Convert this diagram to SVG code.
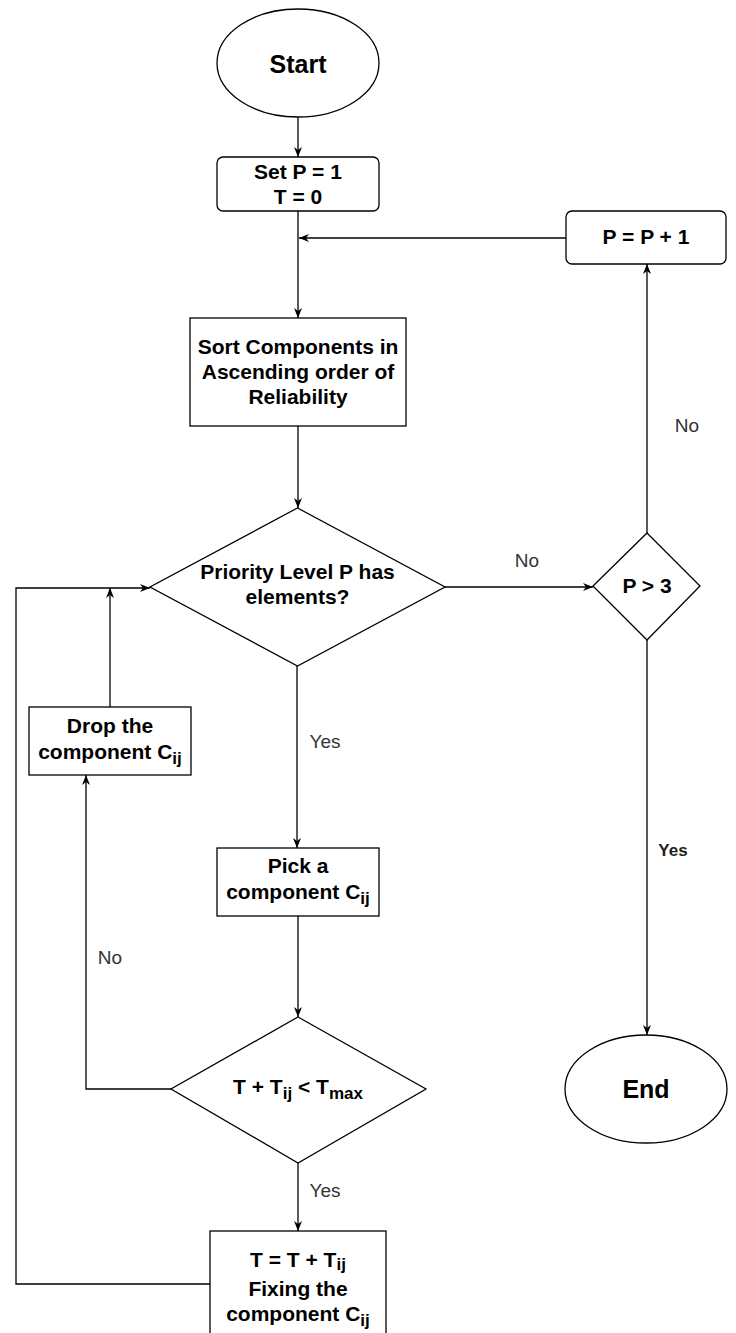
<svg xmlns="http://www.w3.org/2000/svg" width="736" height="1333" viewBox="0 0 736 1333">
<style>
.shape{fill:#fff;stroke:#000;stroke-width:1.3}
.t{font-family:"Liberation Sans",Arial,sans-serif;font-weight:bold;font-size:21px;fill:#000;text-anchor:middle}
.big{font-size:25px}
.lbl{font-family:"Liberation Sans",Arial,sans-serif;font-size:19px;fill:#333;text-anchor:middle}
.lblb{font-family:"Liberation Sans",Arial,sans-serif;font-weight:bold;font-size:17px;fill:#222;text-anchor:middle}
.c{fill:none;stroke:#000;stroke-width:1.3}
.sub{font-size:17px}
</style>
<defs>
<marker id="arr" viewBox="0 0 10 8" refX="10" refY="4" markerWidth="10" markerHeight="8" markerUnits="userSpaceOnUse" orient="auto">
<path d="M0,0 L10,4 L0,8 L3,4 z" fill="#000"/>
</marker>
</defs>
<rect width="736" height="1333" fill="#fff"/>
<g id="connectors">
<path class="c" d="M298,117 L298,157" marker-end="url(#arr)"/>
<path class="c" d="M298,211 L298,318" marker-end="url(#arr)"/>
<path class="c" d="M566,238 L299,238" marker-end="url(#arr)"/>
<path class="c" d="M298,426 L298,508" marker-end="url(#arr)"/>
<path class="c" d="M445,587 L593,587" marker-end="url(#arr)"/>
<path class="c" d="M647,533 L647,264" marker-end="url(#arr)"/>
<path class="c" d="M647,640 L647,1035" marker-end="url(#arr)"/>
<path class="c" d="M297,666 L297,848" marker-end="url(#arr)"/>
<path class="c" d="M298,916 L298,1017" marker-end="url(#arr)"/>
<path class="c" d="M171,1089 L86,1089 L86,775" marker-end="url(#arr)"/>
<path class="c" d="M110,707 L110,588" marker-end="url(#arr)"/>
<path class="c" d="M298,1163 L298,1231" marker-end="url(#arr)"/>
<path class="c" d="M210,1284 L16,1284 L16,588 L150,588" marker-end="url(#arr)"/>
<text class="lbl" x="527" y="567">No</text>
<text class="lbl" x="687" y="432">No</text>
<text class="lblb" x="673" y="856">Yes</text>
<text class="lbl" x="325" y="748">Yes</text>
<text class="lbl" x="110" y="964">No</text>
<text class="lbl" x="325" y="1197">Yes</text>
</g>
<g id="start">
<ellipse class="shape" cx="298" cy="63" rx="81" ry="54"/>
<text class="t big" x="298" y="73">Start</text>
</g>
<g id="set">
<rect class="shape" x="217" y="157" width="162" height="54" rx="6"/>
<text class="t" x="298" y="179">Set P = 1</text>
<text class="t" x="298" y="204">T = 0</text>
</g>
<g id="incp">
<rect class="shape" x="566" y="211" width="160" height="53" rx="6"/>
<text class="t" x="646" y="244">P = P + 1</text>
</g>
<g id="sort">
<rect class="shape" x="190" y="318" width="216" height="108"/>
<text class="t" x="298" y="354">Sort Components in</text>
<text class="t" x="298" y="379">Ascending order of</text>
<text class="t" x="298" y="404">Reliability</text>
</g>
<g id="priority">
<polygon class="shape" points="297.5,508 445,587 297.5,666 150,587"/>
<text class="t" x="297.5" y="579">Priority Level P has</text>
<text class="t" x="297.5" y="604">elements?</text>
</g>
<g id="pgt3">
<polygon class="shape" points="647,533 700,586 647,640 593,586"/>
<text class="t" x="647" y="593">P &gt; 3</text>
</g>
<g id="end">
<ellipse class="shape" cx="646" cy="1089" rx="81" ry="54"/>
<text class="t big" x="646" y="1098">End</text>
</g>
<g id="drop">
<rect class="shape" x="29" y="707" width="162" height="68"/>
<text class="t" x="110" y="733">Drop the</text>
<text class="t" x="110" y="759">component C<tspan class="sub" dy="5">ij</tspan></text>
</g>
<g id="pick">
<rect class="shape" x="217" y="848" width="162" height="68"/>
<text class="t" x="298" y="873">Pick a</text>
<text class="t" x="298" y="899">component C<tspan class="sub" dy="5">ij</tspan></text>
</g>
<g id="check">
<polygon class="shape" points="298,1017 426,1089 298,1163 171,1089"/>
<text class="t" x="298" y="1094">T + T<tspan class="sub" dy="5">ij</tspan><tspan dy="-5"> &lt; T</tspan><tspan class="sub" dy="5">max</tspan></text>
</g>
<g id="fix">
<rect class="shape" x="210" y="1231" width="176" height="110"/>
<text class="t" x="298" y="1267">T = T + T<tspan class="sub" dy="3">ij</tspan></text>
<text class="t" x="298" y="1296">Fixing the</text>
<text class="t" x="298" y="1321">component C<tspan class="sub" dy="5">ij</tspan></text>
</g>
</svg>
